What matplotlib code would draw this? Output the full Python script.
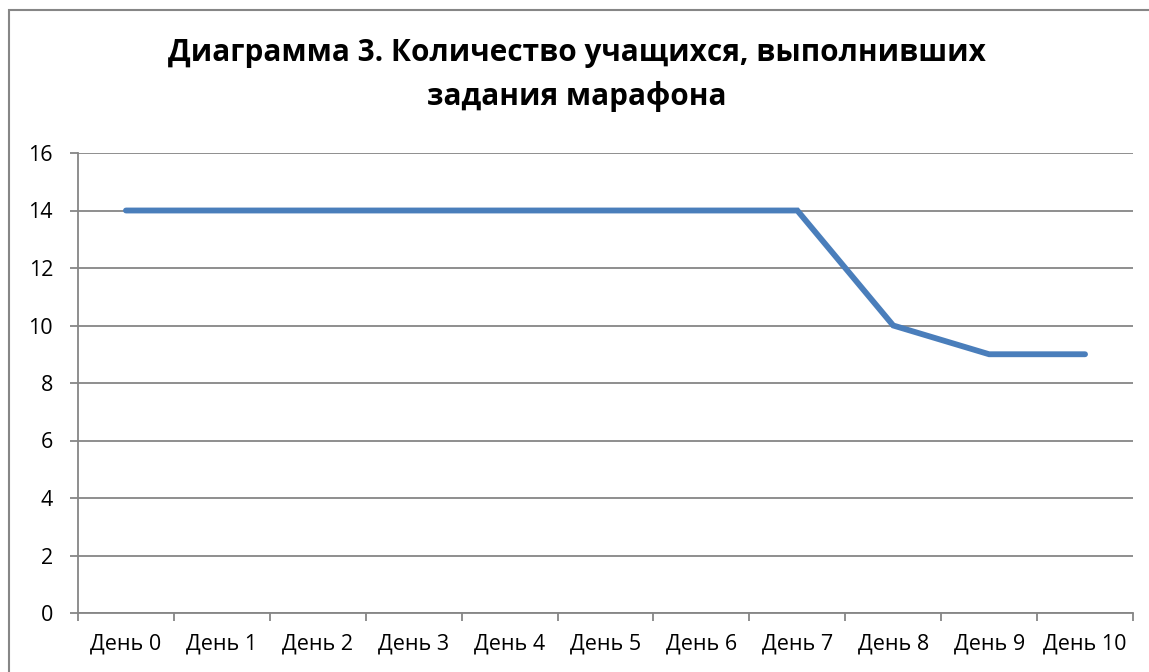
import matplotlib.pyplot as plt
from matplotlib.patches import Rectangle
import numpy as np

days = ["День 0", "День 1", "День 2", "День 3", "День 4", "День 5",
        "День 6", "День 7", "День 8", "День 9", "День 10"]
students = [14, 14, 14, 14, 14, 14, 14, 14, 10, 9, 9]
y_ticks = [0, 2, 4, 6, 8, 10, 12, 14, 16]

plt.rcParams["font.family"] = ["Open Sans", "DejaVu Sans"]

W, H = 1149, 672
fig = plt.figure(figsize=(W / 100, H / 100), dpi=100)
ax = fig.add_axes([78 / W, 1 - 613 / H, (1133 - 78) / W, (613 - 153) / H])

x = np.arange(len(days))
ax.plot(x, students, color="#4a7ebb", linewidth=4.2, solid_capstyle="round",
        solid_joinstyle="miter", zorder=3)

grid_c = "#868686"
ax.set_xlim(-0.5, len(days) - 0.5)
ax.set_ylim(0, 16)
ax.set_yticks(y_ticks)
ax.yaxis.grid(True, color=grid_c, linewidth=1.3)
ax.set_axisbelow(True)

ax.set_xticks(x)
ax.set_xticklabels(days, fontsize=15.5)
ax.set_xticks(np.arange(-0.5, len(days)), minor=True)
ax.tick_params(axis="x", which="major", length=0, pad=15)
ax.tick_params(axis="x", which="minor", length=6, color=grid_c, width=1.3)
ax.tick_params(axis="y", length=6, color=grid_c, width=1.3, labelsize=15.5, pad=12)

for side in ["top", "right"]:
    ax.spines[side].set_visible(False)
for side in ["left", "bottom"]:
    ax.spines[side].set_color(grid_c)
    ax.spines[side].set_linewidth(1.3)

fig.text(577 / W, 1 - 75 / H,
         "Диаграмма 3. Количество учащихся, выполнивших\nзадания марафона",
         ha="center", va="center", fontsize=21.4, fontweight="bold",
         linespacing=1.5)

# chart frame (cropped at right and bottom)
fig.add_artist(Rectangle((9 / W, -0.1), 1.2, 1 - 10 / H + 0.1,
                         transform=fig.transFigure, fill=False,
                         edgecolor=grid_c, linewidth=1.5))

fig.savefig("out.png", dpi=100)
